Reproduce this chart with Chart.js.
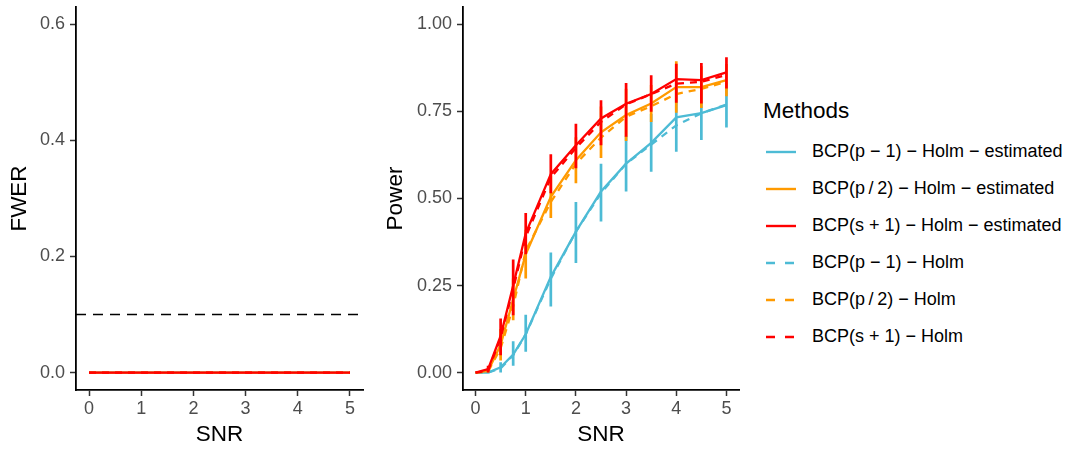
<!DOCTYPE html>
<html>
<head>
<meta charset="utf-8">
<script src="https://cdn.jsdelivr.net/npm/chart.js@4.4.0/dist/chart.umd.min.js"></script>
<style>
  html, body { margin: 0; padding: 0; background: #fff; }
  body { width: 1076px; height: 450px; position: relative; overflow: hidden; font-family: "Liberation Sans", Arial, sans-serif; }
  #fwerChart { position: absolute; left: 0; top: 0; }
  #powerChart { position: absolute; left: 370px; top: 0; }
  #legend { position: absolute; left: 766px; top: 97px; color: #000; }
  #legend .title { font-size: 22.5px; line-height: 27px; margin-left: -3px; height: 36px; }
  #legend .row { display: flex; align-items: center; height: 37px; font-size: 18px; line-height: 37px; white-space: nowrap; }
  #legend svg { width: 30px; height: 6px; margin-right: 16px; }
</style>
</head>
<body>
<canvas id="fwerChart" width="370" height="450"></canvas>
<canvas id="powerChart" width="380" height="450"></canvas>
<div id="legend"></div>
<script>
// SNR grid
const snr = [0, 0.25, 0.5, 0.75, 1, 1.5, 2, 2.5, 3, 3.5, 4, 4.5, 5];
const snrTicks = [0, 1, 2, 3, 4, 5];
const fwerTicks = [0, 0.2, 0.4, 0.6];
const powerTicks = [0, 0.25, 0.5, 0.75, 1];
const alphaLevel = 0.1;

// FWER (all methods sit at zero)
const fwerP1Est  = [0, 0, 0, 0, 0, 0, 0, 0, 0, 0, 0, 0, 0];
const fwerP2Est  = [0, 0, 0, 0, 0, 0, 0, 0, 0, 0, 0, 0, 0];
const fwerS1Est  = [0, 0, 0, 0, 0, 0, 0, 0, 0, 0, 0, 0, 0];
const fwerP1Holm = [0, 0, 0, 0, 0, 0, 0, 0, 0, 0, 0, 0, 0];
const fwerP2Holm = [0, 0, 0, 0, 0, 0, 0, 0, 0, 0, 0, 0, 0];
const fwerS1Holm = [0, 0, 0, 0, 0, 0, 0, 0, 0, 0, 0, 0, 0];

// Power
const powerP1Est  = [0, 0, 0.015, 0.052, 0.11, 0.275, 0.405, 0.52, 0.60, 0.66, 0.733, 0.745, 0.768];
const powerP2Est  = [0, 0.005, 0.08, 0.21, 0.34, 0.505, 0.61, 0.69, 0.74, 0.773, 0.82, 0.82, 0.84];
const powerS1Est  = [0, 0.01, 0.105, 0.25, 0.40, 0.57, 0.653, 0.73, 0.772, 0.80, 0.843, 0.84, 0.862];
const powerP1Holm = [0, 0, 0.012, 0.05, 0.11, 0.27, 0.405, 0.515, 0.60, 0.655, 0.71, 0.745, 0.77];
const powerP2Holm = [0, 0.003, 0.07, 0.19, 0.35, 0.49, 0.60, 0.675, 0.735, 0.765, 0.80, 0.815, 0.835];
const powerS1Holm = [0, 0.005, 0.10, 0.24, 0.39, 0.56, 0.645, 0.72, 0.77, 0.80, 0.83, 0.835, 0.855];

// error bars of the estimated methods
const powerP1Lo = [0, 0, 0, 0.02, 0.06, 0.19, 0.315, 0.434, 0.52, 0.577, 0.634, 0.668, 0.704];
const powerP1Hi = [0, 0, 0.03, 0.09, 0.166, 0.345, 0.49, 0.60, 0.68, 0.743, 0.832, 0.822, 0.832];
const powerP2Lo = [0, 0, 0.035, 0.15, 0.27, 0.444, 0.544, 0.616, 0.665, 0.72, 0.746, 0.76, 0.794];
const powerP2Hi = [0, 0.01, 0.125, 0.27, 0.41, 0.566, 0.676, 0.764, 0.815, 0.826, 0.894, 0.88, 0.886];
const powerS1Lo = [0, 0, 0.05, 0.165, 0.34, 0.515, 0.587, 0.653, 0.677, 0.749, 0.775, 0.773, 0.816];
const powerS1Hi = [0, 0.02, 0.155, 0.325, 0.458, 0.627, 0.715, 0.782, 0.832, 0.854, 0.887, 0.889, 0.906];

const methodLabels = [
    'BCP(p − 1) − Holm − estimated',
    'BCP(p\u2009/\u20092) − Holm − estimated',
    'BCP(s + 1) − Holm − estimated',
    'BCP(p − 1) − Holm',
    'BCP(p\u2009/\u20092) − Holm',
    'BCP(s + 1) − Holm'
];
const methodColors = ['#4DBBD5', '#FF9A00', '#FF0000', '#4DBBD5', '#FF9A00', '#FF0000'];
const methodDashed = [false, false, false, true, true, true];
const dashPattern = [7, 6];

Chart.defaults.font.family = '"Liberation Sans", Arial, sans-serif';

function pts(ys) {
    return snr.map((x, i) => ({ x: x, y: ys[i] }));
}

function bars(lo, hi) {
    const out = [];
    snr.forEach((x, i) => {
        out.push({ x: x, y: lo[i] }, { x: x, y: hi[i] }, { x: x, y: null });
    });
    return out;
}

function methodSet(k, ys, order) {
    return {
        label: methodLabels[k],
        data: pts(ys),
        borderColor: methodColors[k],
        borderWidth: 2.3,
        borderDash: methodDashed[k] ? dashPattern : [],
        pointRadius: 0,
        tension: 0,
        fill: false,
        order: order
    };
}

function barSet(k, lo, hi, order) {
    return {
        label: methodLabels[k] + ' bars',
        data: bars(lo, hi),
        borderColor: methodColors[k],
        borderWidth: 2.7,
        borderCapStyle: 'butt',
        pointRadius: 0,
        spanGaps: false,
        fill: false,
        order: order
    };
}

function xAxis() {
    return {
        type: 'linear',
        min: -0.25,
        max: 5.25,
        afterBuildTicks: s => { s.ticks = snrTicks.map(v => ({ value: v })); },
        afterFit: s => { s.height = 60; s.paddingLeft = 0; s.paddingRight = 0; },
        grid: { drawOnChartArea: false, drawTicks: true, tickLength: 6, tickColor: '#333', tickWidth: 1.5 },
        border: { display: true, color: '#000', width: 1.8 },
        ticks: { color: '#4D4D4D', font: { size: 18 }, padding: 2, maxRotation: 0, autoSkip: false,
                 callback: v => String(v) },
        title: { display: true, text: 'SNR', color: '#000', font: { size: 22.5 }, padding: { top: 0, bottom: 1.5 } }
    };
}

function yAxis(min, max, tickVals, digits, title, width, titlePad) {
    return {
        type: 'linear',
        min: min,
        max: max,
        afterBuildTicks: s => { s.ticks = tickVals.map(v => ({ value: v })); },
        afterFit: s => { s.width = width; s.paddingTop = 0; s.paddingBottom = 0; },
        grid: { drawOnChartArea: false, drawTicks: true, tickLength: 6, tickColor: '#333', tickWidth: 1.5 },
        border: { display: true, color: '#000', width: 1.8 },
        ticks: { color: '#4D4D4D', font: { size: 18 }, padding: 5, autoSkip: false,
                 callback: v => Number(v).toFixed(digits) },
        title: { display: true, text: title, color: '#000', font: { size: 22.5 }, padding: { top: titlePad, bottom: 0 } }
    };
}

const commonOpts = {
    responsive: false,
    animation: false,
    events: [],
    plugins: { legend: { display: false }, tooltip: { enabled: false } }
};

new Chart(document.getElementById('fwerChart'), {
    type: 'line',
    data: {
        datasets: [
            {
                label: 'alpha',
                data: [{ x: -0.25, y: alphaLevel }, { x: 5.25, y: alphaLevel }],
                borderColor: '#000',
                borderWidth: 1.6,
                borderDash: [10, 7],
                pointRadius: 0,
                order: 0
            },
            methodSet(5, fwerS1Holm, 1),
            methodSet(2, fwerS1Est, 2),
            methodSet(4, fwerP2Holm, 3),
            methodSet(1, fwerP2Est, 4),
            methodSet(3, fwerP1Holm, 5),
            methodSet(0, fwerP1Est, 6)
        ]
    },
    options: Object.assign({}, commonOpts, {
        layout: { padding: { top: 7, right: 7, bottom: 0, left: 0 } },
        scales: {
            x: xAxis(),
            y: yAxis(-0.03, 0.63, fwerTicks, 1, 'FWER', 76, 6)
        }
    })
});

new Chart(document.getElementById('powerChart'), {
    type: 'line',
    data: {
        datasets: [
            barSet(2, powerS1Lo, powerS1Hi, 1),
            methodSet(5, powerS1Holm, 2),
            methodSet(2, powerS1Est, 3),
            barSet(1, powerP2Lo, powerP2Hi, 4),
            methodSet(4, powerP2Holm, 5),
            methodSet(1, powerP2Est, 6),
            barSet(0, powerP1Lo, powerP1Hi, 7),
            methodSet(3, powerP1Holm, 8),
            methodSet(0, powerP1Est, 9)
        ]
    },
    options: Object.assign({}, commonOpts, {
        layout: { padding: { top: 7, right: 11, bottom: 0, left: 0 } },
        scales: {
            x: xAxis(),
            y: yAxis(-0.05, 1.05, powerTicks, 2, 'Power', 93, 12.5)
        }
    })
});

// legend
const legend = document.getElementById('legend');
const head = document.createElement('div');
head.className = 'title';
head.textContent = 'Methods';
legend.appendChild(head);
methodLabels.forEach((label, k) => {
    const row = document.createElement('div');
    row.className = 'row';
    const dash = methodDashed[k] ? ' stroke-dasharray="9 10"' : '';
    row.innerHTML = '<svg viewBox="0 0 30 6"><line x1="0" y1="3" x2="30" y2="3" stroke="' +
        methodColors[k] + '" stroke-width="2.4"' + dash + '/></svg>';
    const txt = document.createElement('span');
    txt.textContent = label;
    row.appendChild(txt);
    legend.appendChild(row);
});
</script>
</body>
</html>
